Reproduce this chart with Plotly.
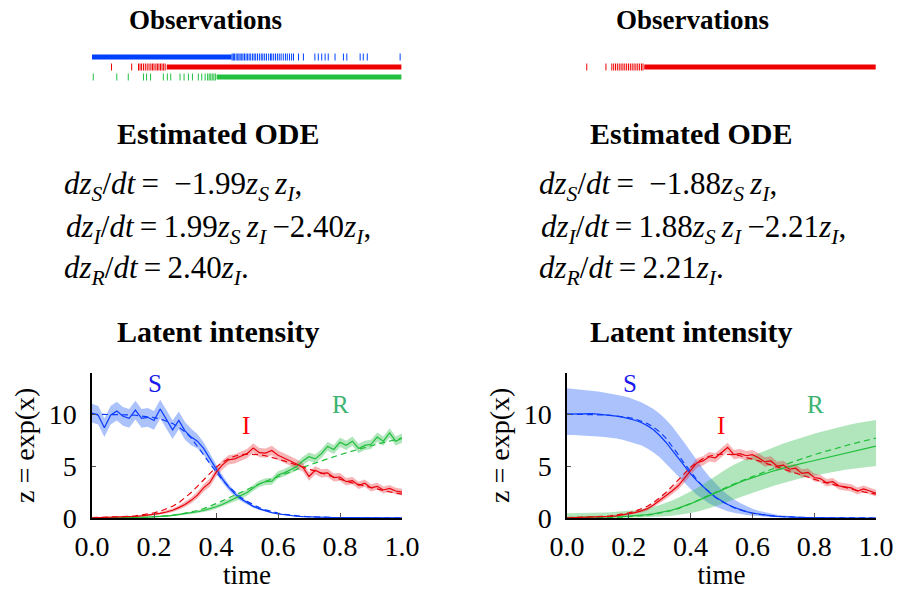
import plotly.graph_objects as go

W, H = 897, 590

# ---------------- data ----------------
T = [round(0.02 * i, 2) for i in range(51)]

# observation event times (left panel: S, I, R; right panel: I only)
obs_S_dense = [(0.0, 0.45)]
obs_S_ticks = [0.452, 0.456, 0.46, 0.465, 0.47, 0.474, 0.478, 0.483, 0.487, 0.492, 0.497, 0.502,
               0.507, 0.512, 0.518, 0.523, 0.528, 0.534, 0.54, 0.546, 0.551, 0.557, 0.563, 0.57,
               0.576, 0.58, 0.586, 0.592, 0.598, 0.604, 0.61, 0.617, 0.624, 0.63, 0.637, 0.644,
               0.65, 0.666, 0.682, 0.719, 0.73, 0.741, 0.752, 0.762, 0.784, 0.811, 0.822,
               0.865, 0.875, 0.888, 0.994]
obs_I_dense = [(0.241, 0.998)]
obs_I_ticks = [0.063, 0.128, 0.15, 0.155, 0.16, 0.166, 0.172, 0.178, 0.184, 0.19, 0.195, 0.2,
               0.206, 0.211, 0.216, 0.221, 0.226, 0.231, 0.236]
obs_R_dense = [(0.402, 0.998)]
obs_R_ticks = [0.004, 0.08, 0.117, 0.166, 0.176, 0.189, 0.23, 0.243, 0.254, 0.284, 0.297, 0.311,
               0.324, 0.343, 0.354, 0.365, 0.373, 0.378, 0.383, 0.388, 0.393, 0.398]
obs2_I_dense = [(0.25, 0.999)]
obs2_I_ticks = [0.064, 0.126, 0.145, 0.151, 0.157, 0.163, 0.169, 0.175, 0.181, 0.187, 0.193,
                0.199, 0.205, 0.211, 0.217, 0.223, 0.229, 0.235, 0.241, 0.246]

# true trajectories (dashed)
true_S = [10.0, 10.0, 10.0, 10.0, 9.98, 9.95, 9.93, 9.9, 9.85, 9.78, 9.68, 9.55, 9.35, 9.1, 8.75,
          8.3, 7.7, 6.95, 6.1, 5.25, 4.45, 3.7, 3.05, 2.5, 2.0, 1.6, 1.27, 1.0, 0.78, 0.6, 0.47,
          0.36, 0.28, 0.21, 0.16, 0.12, 0.09, 0.07, 0.05, 0.04, 0.03, 0.022, 0.016, 0.012, 0.009,
          0.007, 0.005, 0.004, 0.003, 0.002, 0.002]
true_I = [0.03, 0.04, 0.05, 0.07, 0.09, 0.12, 0.16, 0.21, 0.28, 0.37, 0.49, 0.65, 0.86, 1.13, 1.48,
          1.92, 2.45, 3.05, 3.7, 4.35, 4.9, 5.35, 5.7, 5.95, 6.1, 6.15, 6.15, 6.1, 6.0, 5.85, 5.7,
          5.5, 5.3, 5.1, 4.9, 4.7, 4.5, 4.3, 4.1, 3.9, 3.72, 3.55, 3.38, 3.22, 3.07, 2.92, 2.78,
          2.65, 2.52, 2.4, 2.29]
true_R = [0.0, 0.0, 0.01, 0.01, 0.02, 0.03, 0.04, 0.05, 0.07, 0.09, 0.12, 0.16, 0.21, 0.27, 0.35,
          0.45, 0.57, 0.72, 0.9, 1.12, 1.38, 1.65, 1.93, 2.2, 2.47, 2.75, 3.02, 3.28, 3.53, 3.77,
          4.0, 4.23, 4.45, 4.67, 4.89, 5.1, 5.31, 5.51, 5.71, 5.91, 6.1, 6.28, 6.46, 6.63, 6.8,
          6.96, 7.12, 7.27, 7.42, 7.56, 7.7]

# left panel: estimates from S, I, R observations
left_S = [10.1, 9.9, 8.7, 9.9, 10.3, 9.8, 9.6, 10.4, 9.6, 9.7, 9.4, 10.5, 9.5, 8.5, 9.4, 8.4, 7.8,
          7.4, 6.7, 5.7, 4.7, 3.8, 3.0, 2.35, 1.85, 1.45, 1.12, 0.88, 0.68, 0.52, 0.4, 0.3, 0.22,
          0.17, 0.13, 0.1, 0.08, 0.06, 0.05, 0.04, 0.03, 0.025, 0.02, 0.016, 0.013, 0.01, 0.008,
          0.007, 0.006, 0.005, 0.004]
left_S_hw = [0.9, 0.9, 0.9, 0.9, 0.9, 0.9, 0.9, 0.9, 0.9, 0.9, 0.9, 0.9, 0.9, 0.9, 0.85, 0.85, 0.8,
             0.7, 0.6, 0.5, 0.42, 0.35, 0.3, 0.25, 0.2, 0.16, 0.13, 0.1, 0.08, 0.06, 0.05, 0.04,
             0.03, 0.03, 0.02, 0.02, 0.02, 0.01, 0.01, 0.01, 0.01, 0.01, 0.01, 0.01, 0.01, 0.01,
             0.01, 0.01, 0.01, 0.01, 0.01]
left_I = [0.02, 0.03, 0.04, 0.05, 0.07, 0.09, 0.12, 0.16, 0.2, 0.26, 0.33, 0.45, 0.58, 0.75, 1.0,
          1.3, 1.7, 2.2, 2.9, 3.4, 4.4, 5.1, 5.6, 5.7, 5.95, 6.2, 6.75, 6.3, 6.25, 6.5, 6.05, 5.8,
          5.5, 5.2, 4.9, 4.0, 4.6, 4.3, 4.35, 3.9, 3.95, 3.5, 3.6, 3.15, 3.35, 2.9, 3.05, 2.7,
          2.85, 2.6, 2.5]
I_hw = [0.02, 0.02, 0.02, 0.03, 0.03, 0.04, 0.05, 0.06, 0.07, 0.08, 0.1, 0.12, 0.14, 0.17, 0.2,
        0.25, 0.28, 0.32, 0.36, 0.4, 0.42, 0.45, 0.45, 0.45, 0.45, 0.45, 0.45, 0.45, 0.45, 0.45,
        0.45, 0.45, 0.45, 0.45, 0.42, 0.42, 0.4, 0.4, 0.4, 0.38, 0.38, 0.36, 0.36, 0.35, 0.35,
        0.34, 0.34, 0.33, 0.33, 0.32, 0.32]
left_R = [0.0, 0.0, 0.01, 0.01, 0.02, 0.03, 0.04, 0.05, 0.07, 0.09, 0.11, 0.14, 0.19, 0.25, 0.32,
          0.4, 0.5, 0.6, 0.72, 0.88, 1.08, 1.3, 1.58, 1.85, 2.1, 2.45, 2.9, 3.3, 3.5, 3.55, 4.15,
          4.35, 4.65, 4.95, 5.5, 5.9, 5.7, 6.2, 6.9, 6.6, 7.3, 7.0, 7.4, 6.7, 7.0, 7.1, 7.8, 7.4,
          8.2, 7.4, 7.7]
left_R_hw = [0.02, 0.02, 0.02, 0.02, 0.03, 0.03, 0.03, 0.04, 0.04, 0.05, 0.05, 0.06, 0.07, 0.08,
             0.09, 0.1, 0.11, 0.13, 0.15, 0.17, 0.2, 0.22, 0.24, 0.26, 0.28, 0.3, 0.31, 0.32, 0.33,
             0.34, 0.35, 0.36, 0.37, 0.38, 0.39, 0.4, 0.41, 0.42, 0.43, 0.44, 0.45, 0.45, 0.45,
             0.45, 0.45, 0.45, 0.45, 0.45, 0.45, 0.45, 0.45]

# right panel: estimates from I observations only
right_S = [10.0, 10.02, 10.08, 10.1, 10.05, 10.0, 9.96, 9.9, 9.82, 9.72, 9.6, 9.42, 9.2, 8.9, 8.5,
           7.95, 7.3, 6.55, 5.75, 4.95, 4.25, 3.6, 3.0, 2.48, 2.02, 1.63, 1.3, 1.03, 0.8, 0.62,
           0.48, 0.37, 0.28, 0.21, 0.16, 0.12, 0.09, 0.07, 0.05, 0.04, 0.03, 0.022, 0.016, 0.012,
           0.009, 0.007, 0.005, 0.004, 0.003, 0.002, 0.002]
right_S_hi = [12.5, 12.45, 12.4, 12.35, 12.3, 12.2, 12.1, 12.0, 11.9, 11.75, 11.6, 11.4, 11.15,
              10.85, 10.5, 10.05, 9.5, 8.85, 8.1, 7.25, 6.4, 5.55, 4.75, 4.0, 3.35, 2.75, 2.25,
              1.8, 1.45, 1.15, 0.9, 0.7, 0.55, 0.42, 0.32, 0.25, 0.19, 0.15, 0.11, 0.09, 0.07,
              0.06, 0.05, 0.04, 0.03, 0.03, 0.02, 0.02, 0.02, 0.01, 0.01]
right_S_lo = [8.0, 8.0, 7.95, 7.95, 7.9, 7.85, 7.8, 7.75, 7.65, 7.55, 7.4, 7.2, 7.0, 6.7, 6.3, 5.85,
              5.3, 4.7, 4.05, 3.4, 2.8, 2.25, 1.8, 1.4, 1.1, 0.85, 0.65, 0.5, 0.38, 0.29, 0.22,
              0.16, 0.12, 0.09, 0.07, 0.05, 0.04, 0.03, 0.02, 0.02, 0.01, 0.01, 0.01, 0.0, 0.0,
              0.0, 0.0, 0.0, 0.0, 0.0, 0.0]
right_I = [0.02, 0.03, 0.03, 0.04, 0.06, 0.08, 0.11, 0.15, 0.21, 0.3, 0.4, 0.52, 0.68, 0.9, 1.25,
           1.7, 2.1, 2.6, 3.1, 3.8, 4.5, 5.3, 5.5, 5.9, 5.8, 6.3, 6.8, 6.1, 6.2, 6.0, 6.1, 5.8,
           5.4, 5.5, 5.0, 5.1, 4.7, 4.8, 4.3, 4.4, 3.9, 3.8, 3.4, 3.5, 3.1, 3.0, 2.9, 2.6, 2.8,
           2.6, 2.4]
right_R = [0.05, 0.05, 0.06, 0.06, 0.07, 0.08, 0.09, 0.1, 0.12, 0.14, 0.17, 0.21, 0.26, 0.32, 0.4,
           0.5, 0.62, 0.77, 0.95, 1.15, 1.38, 1.63, 1.9, 2.17, 2.45, 2.72, 2.98, 3.23, 3.46, 3.68,
           3.89, 4.09, 4.28, 4.46, 4.63, 4.8, 4.96, 5.11, 5.26, 5.4, 5.54, 5.68, 5.82, 5.96, 6.1,
           6.24, 6.38, 6.52, 6.66, 6.8, 6.93]
right_R_hi = [0.45, 0.45, 0.46, 0.47, 0.48, 0.5, 0.52, 0.55, 0.58, 0.62, 0.67, 0.74, 0.83, 0.94,
              1.08, 1.25, 1.45, 1.68, 1.95, 2.25, 2.55, 2.87, 3.25, 3.65, 4.05, 4.45, 4.8, 5.12,
              5.42, 5.7, 5.97, 6.23, 6.48, 6.72, 6.95, 7.17, 7.38, 7.58, 7.77, 7.95, 8.12, 8.28,
              8.44, 8.6, 8.75, 8.9, 9.03, 9.15, 9.27, 9.38, 9.45]
right_R_lo = [0.0, 0.0, 0.0, 0.0, 0.0, 0.01, 0.01, 0.01, 0.02, 0.02, 0.03, 0.04, 0.05, 0.07, 0.09,
              0.12, 0.16, 0.21, 0.28, 0.37, 0.48, 0.6, 0.76, 0.94, 1.13, 1.33, 1.55, 1.78, 2.0,
              2.22, 2.43, 2.63, 2.83, 3.02, 3.2, 3.38, 3.55, 3.7, 3.85, 3.98, 4.1, 4.22, 4.33,
              4.44, 4.54, 4.64, 4.73, 4.81, 4.88, 4.95, 5.0]

eq_left = ["−1.99", "1.99", "−2.40", "2.40"]
eq_right = ["−1.88", "1.88", "−2.21", "2.21"]

# ---------------- style ----------------
FONT = "Liberation Serif"
C_S, C_I, C_R = "#0a3cff", "#e8000b", "#1fbf3a"
F_S, F_I, F_R = "rgba(70,120,250,0.45)", "rgba(230,30,40,0.33)", "rgba(50,190,80,0.38)"
L_S, L_I, L_R = "#1a1aee", "#ff0000", "#3cb371"
OB_S, OB_I, OB_R = "#0040ff", "#ee0000", "#22c040"

fig = go.Figure()

def px_x(p):
    return p / W

def px_y(p):
    return 1 - p / H

# ---------------- observation strips ----------------
def strip(xa, ya, row, dense, ticks, color):
    for a, b in dense:
        fig.add_trace(go.Scatter(x=[a, b], y=[row, row], mode="lines",
                                 line=dict(color=color, width=5), xaxis=xa, yaxis=ya,
                                 showlegend=False, hoverinfo="skip"))
    fig.add_trace(go.Scatter(x=ticks, y=[row] * len(ticks), mode="markers",
                             marker=dict(symbol="line-ns", size=5, line=dict(color=color, width=1)),
                             xaxis=xa, yaxis=ya, showlegend=False, hoverinfo="skip"))

strip("x", "y", 2, obs_S_dense, obs_S_ticks, OB_S)
strip("x", "y", 1, obs_I_dense, obs_I_ticks, OB_I)
strip("x", "y", 0, obs_R_dense, obs_R_ticks, OB_R)
strip("x2", "y2", 1, obs2_I_dense, obs2_I_ticks, OB_I)

# ---------------- latent intensity ----------------
def band(xa, ya, lo, hi, fill):
    fig.add_trace(go.Scatter(x=T + T[::-1], y=hi + lo[::-1], fill="toself", fillcolor=fill,
                             line=dict(width=0), mode="lines", xaxis=xa, yaxis=ya,
                             showlegend=False, hoverinfo="skip"))

def line(xa, ya, y, color, dash="solid"):
    fig.add_trace(go.Scatter(x=T, y=y, mode="lines",
                             line=dict(color=color, width=1.2, dash=dash),
                             xaxis=xa, yaxis=ya, showlegend=False, hoverinfo="skip"))

# left
band("x3", "y3", [m - h for m, h in zip(left_S, left_S_hw)], [m + h for m, h in zip(left_S, left_S_hw)], F_S)
band("x3", "y3", [m - h for m, h in zip(left_R, left_R_hw)], [m + h for m, h in zip(left_R, left_R_hw)], F_R)
band("x3", "y3", [m - h for m, h in zip(left_I, I_hw)], [m + h for m, h in zip(left_I, I_hw)], F_I)
line("x3", "y3", true_S, C_S, "6px,4px")
line("x3", "y3", true_R, C_R, "6px,4px")
line("x3", "y3", true_I, C_I, "6px,4px")
line("x3", "y3", left_S, C_S)
line("x3", "y3", left_R, C_R)
line("x3", "y3", left_I, C_I)

# right
band("x4", "y4", right_S_lo, right_S_hi, F_S)
band("x4", "y4", right_R_lo, right_R_hi, F_R)
band("x4", "y4", [m - h for m, h in zip(right_I, I_hw)], [m + h for m, h in zip(right_I, I_hw)], F_I)
line("x4", "y4", true_S, C_S, "6px,4px")
line("x4", "y4", true_R, C_R, "6px,4px")
line("x4", "y4", true_I, C_I, "6px,4px")
line("x4", "y4", right_S, C_S)
line("x4", "y4", right_R, C_R)
line("x4", "y4", right_I, C_I)

# ---------------- axes ----------------
LX = [px_x(92), px_x(402)]
RX = [px_x(567), px_x(876)]
strip_dom = [px_y(85), px_y(50)]
lat_dom = [px_y(518), px_y(372.7)]

hidden = dict(visible=False, showgrid=False, zeroline=False, automargin=False)
tickfont = dict(family=FONT, size=28, color="black")
xcommon = dict(range=[0, 1], tickvals=[0, 0.2, 0.4, 0.6, 0.8, 1.0],
               ticktext=["0.0", "0.2", "0.4", "0.6", "0.8", "1.0"],
               ticks="inside", ticklen=5, tickcolor="#555", showline=True, linecolor="black",
               linewidth=1.5, showgrid=False, zeroline=False, tickfont=tickfont,
               ticklabelstandoff=3, automargin=False,
               title=dict(text="time", font=dict(family=FONT, size=27, color="black"), standoff=8))
ycommon = dict(range=[0, 14], tickvals=[0, 5, 10], ticks="inside", ticklen=4, tickcolor="#555",
               showline=True, linecolor="black", linewidth=1.5, showgrid=False, zeroline=False,
               tickfont=tickfont, ticklabelstandoff=8, automargin=False,
               title=dict(text="z = exp(x)", font=dict(family=FONT, size=28, color="black"), standoff=6))

fig.update_layout(
    width=W, height=H, margin=dict(l=0, r=0, t=0, b=0, pad=0, autoexpand=False),
    paper_bgcolor="white", plot_bgcolor="white", showlegend=False,
    xaxis=dict(domain=LX, range=[0, 1], **hidden),
    yaxis=dict(domain=strip_dom, range=[-0.8, 2.7], **hidden),
    xaxis2=dict(domain=RX, range=[0, 1], **hidden),
    yaxis2=dict(domain=strip_dom, range=[-0.8, 2.7], **hidden),
    xaxis3=dict(domain=LX, anchor="y3", **xcommon),
    yaxis3=dict(domain=lat_dom, anchor="x3", **ycommon),
    xaxis4=dict(domain=RX, anchor="y4", **xcommon),
    yaxis4=dict(domain=lat_dom, anchor="x4", **ycommon),
)

# ---------------- text ----------------
ann = []

def text(x, y, s, size, color="black", xanchor="center"):
    ann.append(dict(x=px_x(x), y=px_y(y), xref="paper", yref="paper", text=s, showarrow=False,
                    xanchor=xanchor, yanchor="middle",
                    font=dict(family=FONT, size=size, color=color)))

for cx in (205, 692):
    text(cx, 20, "<b>Observations</b>", 27)
for cx in (218, 691):
    text(cx, 133, "<b>Estimated ODE</b>", 30)
    text(cx, 331, "<b>Latent intensity</b>", 30)

def zs(s):
    return "<i>z</i><sub><i>%s</i></sub>" % s

def eqs(x0, coefs):
    a, b, c, d = coefs
    text(x0, 186, "<i>dz</i><sub><i>S</i></sub>/<i>dt</i>\u2009=\u2002" + a + zs("S") + "\u2009" + zs("I") + ",", 31, xanchor="left")
    text(x0 + 2, 229, "<i>dz</i><sub><i>I</i></sub>/<i>dt</i>\u2009=\u2009" + b + zs("S") + "\u2009" + zs("I") + "\u2009" + c + zs("I") + ",", 31, xanchor="left")
    text(x0, 270, "<i>dz</i><sub><i>R</i></sub>/<i>dt</i>\u2009=\u2009" + d + zs("I") + ".", 31, xanchor="left")

eqs(62, eq_left)
eqs(537, eq_right)

for off in (0, 475):
    text(155 + off, 383, "S", 25, L_S)
    text(246 + off, 425, "I", 25, L_I)
    text(340 + off, 405, "R", 25, L_R)

fig.update_layout(annotations=ann)
fig.write_html("out.html", config={"displayModeBar": False},
               post_script="document.body.style.margin='0px';")
